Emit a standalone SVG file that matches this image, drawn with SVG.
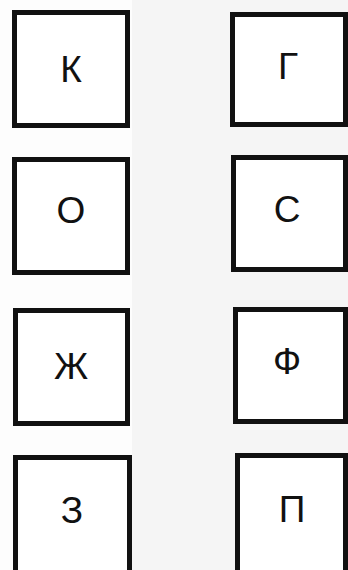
<svg xmlns="http://www.w3.org/2000/svg" width="348" height="570" viewBox="0 0 348 570">
<style>
.box{fill:#fff;stroke:#111;stroke-width:5}
.lbl{font-family:"Liberation Sans",Arial,sans-serif;font-size:37px;fill:#111;text-anchor:middle}
</style>
<rect x="0" y="0" width="348" height="570" fill="#fdfdfd"/>
<rect x="132" y="0" width="216" height="570" fill="#f5f5f5"/>
<g id="node-k"><rect class="box" x="14.5" y="12.5" width="113" height="113"/><text class="lbl" x="71" y="82">К</text></g>
<g id="node-g"><rect class="box" x="232.5" y="14.5" width="113" height="110"/><text class="lbl" x="288" y="79">Г</text></g>
<g id="node-o"><rect class="box" x="14.5" y="159.5" width="113" height="113"/><text class="lbl" x="71" y="223">О</text></g>
<g id="node-s"><rect class="box" x="233.5" y="157.5" width="112" height="112"/><text class="lbl" x="287" y="222">С</text></g>
<g id="node-zh"><rect class="box" x="15.5" y="310.5" width="112" height="113"/><text class="lbl" x="71" y="379">Ж</text></g>
<g id="node-f"><rect class="box" x="235.5" y="309.5" width="110" height="112"/><text class="lbl" x="287" y="374">Ф</text></g>
<g id="node-z"><rect class="box" x="15.5" y="457.5" width="114" height="130"/><text class="lbl" x="72" y="523">З</text></g>
<g id="node-p"><rect class="box" x="237.5" y="455.5" width="108" height="130"/><text class="lbl" x="292" y="522">П</text></g>
<g id="connectors"></g>
</svg>
